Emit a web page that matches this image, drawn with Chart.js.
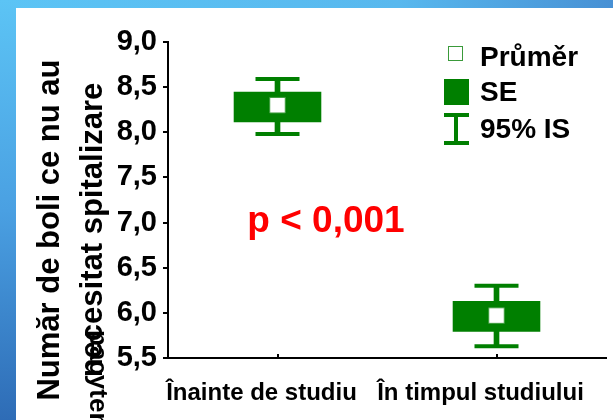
<!DOCTYPE html>
<html>
<head>
<meta charset="utf-8">
<script src="https://cdn.jsdelivr.net/npm/chart.js@4.4.1/dist/chart.umd.min.js"></script>
<style>
    html, body { margin: 0; padding: 0; background: #fff; }
    #wrap { position: relative; width: 613px; height: 420px; overflow: hidden; }
    .band-top { position: absolute; left: 0; top: 0; width: 613px; height: 8px;
        background: linear-gradient(to right, #5cc4f5 0%, #58b8ee 65%, #4790d4 100%); }
    .band-left { position: absolute; left: 0; top: 0; width: 16px; height: 420px;
        background: linear-gradient(to bottom, #5cc4f5 0%, #4aa0e2 50%, #2e6cb6 100%); }
    canvas { position: absolute; left: 0; top: 0; }
</style>
</head>
<body>
<div id="wrap">
    <div class="band-top"></div>
    <div class="band-left"></div>
    <canvas id="myChart" width="613" height="420"></canvas>
</div>
<script>
const categories = ['Înainte de studiu', 'În timpul studiului'];
const meanValues = [8.30, 5.97];
const seLow = [8.11, 5.79];
const seHigh = [8.45, 6.13];
const ciLow = [7.98, 5.63];
const ciHigh = [8.59, 6.30];
const yTicks = [5.5, 6.0, 6.5, 7.0, 7.5, 8.0, 8.5, 9.0];

const titleLines = ['Număr de boli ce nu au', 'necesitat spitalizare'];
const legendLabels = ['Průměr', 'SE', '95% IS'];
const pText = 'p < 0,001';

const GREEN = '#007f00';
const FONT = 'Arial, "Liberation Sans", sans-serif';

// extra drawing: axis title, p-value, legend, inner x ticks
const extras = {
    id: 'extras',
    afterDraw(chart) {
        const ctx = chart.ctx;
        const x = chart.scales.x;
        ctx.save();

        // small tick marks pointing up from the x axis
        ctx.fillStyle = '#000';
        for (let i = 0; i < categories.length; i++) {
            const px = x.getPixelForValue(i);
            ctx.fillRect(Math.round(px) - 1, x.top - 4, 2, 4);
        }

        // rotated y title
        ctx.fillStyle = '#000';
        ctx.font = 'bold 31px ' + FONT;
        ctx.textAlign = 'center';
        ctx.textBaseline = 'middle';
        ctx.save();
        ctx.translate(50, 230);
        ctx.rotate(-Math.PI / 2);
        ctx.fillText(titleLines[0], 0, 0);
        ctx.fillText(titleLines[1], 0, 43);
        ctx.restore();

        ctx.save();
        ctx.font = 'bold 26px ' + FONT;
        ctx.translate(97, 330);
        ctx.rotate(Math.PI / 2);
        ctx.textAlign = 'left';
        ctx.fillText('pacytem', 0, 0);
        ctx.restore();

        // p value
        ctx.fillStyle = '#ff0000';
        ctx.font = 'bold 37px ' + FONT;
        ctx.textAlign = 'center';
        ctx.fillText(pText, 326, 222);

        // legend
        ctx.fillStyle = '#fff';
        ctx.fillRect(448, 46, 15, 15);
        ctx.strokeStyle = '#3a9a3a';
        ctx.lineWidth = 1;
        ctx.strokeRect(448.5, 46.5, 14, 14);

        ctx.fillStyle = GREEN;
        ctx.fillRect(444, 79, 25, 26);

        ctx.fillRect(444, 113, 25, 4);
        ctx.fillRect(454, 113, 4, 32);
        ctx.fillRect(444, 141, 25, 4);

        ctx.fillStyle = '#000';
        ctx.font = 'bold 28px ' + FONT;
        ctx.textAlign = 'left';
        ctx.fillText(legendLabels[0], 480, 58);
        ctx.fillText(legendLabels[1], 480, 93);
        ctx.fillText(legendLabels[2], 480, 130);

        ctx.restore();
    }
};

function createChart() {
    const ctx = document.getElementById('myChart').getContext('2d');
    const ciBars = categories.map((c, i) => [ciLow[i], ciHigh[i]]);
    const seBars = categories.map((c, i) => [seLow[i], seHigh[i]]);

    new Chart(ctx, {
        type: 'bar',
        data: {
            labels: categories,
            datasets: [
                {
                    label: 'Průměr',
                    type: 'line',
                    data: meanValues,
                    showLine: false,
                    pointStyle: 'rect',
                    pointRadius: 11,
                    pointBackgroundColor: '#fff',
                    pointBorderColor: '#3a9a3a',
                    pointBorderWidth: 1,
                    order: 0
                },
                {
                    label: 'cap high',
                    type: 'line',
                    data: ciHigh,
                    showLine: false,
                    pointStyle: 'line',
                    pointRadius: 22,
                    pointBorderColor: GREEN,
                    pointBorderWidth: 4,
                    order: 1
                },
                {
                    label: 'cap low',
                    type: 'line',
                    data: ciLow,
                    showLine: false,
                    pointStyle: 'line',
                    pointRadius: 22,
                    pointBorderColor: GREEN,
                    pointBorderWidth: 4,
                    order: 1
                },
                {
                    label: 'SE',
                    data: seBars,
                    backgroundColor: GREEN,
                    borderWidth: 0,
                    grouped: false,
                    categoryPercentage: 1,
                    barPercentage: 0.4,
                    order: 2
                },
                {
                    label: '95% IS',
                    data: ciBars,
                    backgroundColor: GREEN,
                    borderWidth: 0,
                    grouped: false,
                    barThickness: 5,
                    order: 3
                }
            ]
        },
        options: {
            responsive: false,
            animation: false,
            layout: { autoPadding: false, padding: { top: 42, right: 7, left: 0, bottom: 0 } },
            plugins: {
                legend: { display: false },
                tooltip: { enabled: false }
            },
            scales: {
                x: {
                    offset: true,
                    grid: { display: false, drawTicks: false },
                    border: { display: true, color: '#000', width: 2 },
                    ticks: {
                        color: '#000',
                        padding: 21,
                        labelOffset: -16,
                        minRotation: 0,
                        maxRotation: 0,
                        autoSkip: false,
                        font: { family: FONT, size: 24, weight: 'bold' }
                    },
                    afterFit(scale) {
                        scale.height = 62;
                        scale.paddingLeft = 0;
                        scale.paddingRight = 0;
                    }
                },
                y: {
                    min: 5.5,
                    max: 9,
                    afterBuildTicks(scale) {
                        scale.ticks = yTicks.map(v => ({ value: v }));
                    },
                    grid: {
                        drawOnChartArea: false,
                        drawTicks: true,
                        tickLength: 5,
                        color: '#000',
                        lineWidth: 2
                    },
                    border: { display: true, color: '#000', width: 2 },
                    ticks: {
                        color: '#000',
                        padding: 6,
                        font: { family: FONT, size: 29, weight: 'bold' },
                        callback: v => v.toFixed(1).replace('.', ',')
                    },
                    afterFit(scale) { scale.width = 168; }
                }
            }
        },
        plugins: [extras]
    });
}

document.addEventListener('DOMContentLoaded', createChart);
</script>
</body>
</html>
